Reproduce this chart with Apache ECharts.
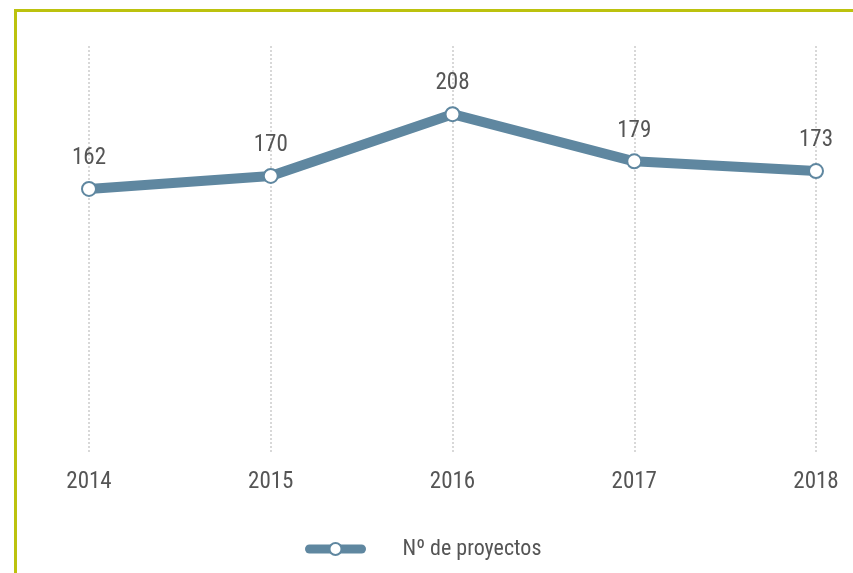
<!DOCTYPE html>
<html>
<head>
<meta charset="utf-8">
<script src="https://cdn.jsdelivr.net/npm/echarts@6/dist/echarts.min.js"></script>
<style>
  html, body { margin: 0; padding: 0; background: #fff; overflow: hidden; }
  #frame {
    position: absolute; left: 14px; top: 9px; width: 900px; height: 600px;
    border-top: 3px solid #bcc20e; border-left: 3px solid #bcc20e;
  }
  #chart { position: absolute; left: 0; top: 0; width: 853px; height: 573px; }
</style>
</head>
<body>
<div id="frame"></div>
<div id="chart"></div>
<script>
const years = ["2014", "2015", "2016", "2017", "2018"];
const proyectos = [162, 170, 208, 179, 173];
const seriesName = "Nº de proyectos";

const font = "'Roboto Condensed', 'Roboto', sans-serif";
const chart = echarts.init(document.getElementById("chart"));

chart.setOption({
    animation: false,
    grid: { left: 89, right: 37, top: 46, bottom: 121 },
    legend: {
        bottom: 8,
        left: 300,
        itemWidth: 52,
        itemHeight: 15,
        lineStyle: { width: 9, cap: "round" },
        textStyle: { fontFamily: font, fontSize: 22, color: "#555", padding: [0, 0, 0, 36] },
        data: [seriesName],
    },
    xAxis: {
        type: "category",
        boundaryGap: false,
        data: years,
        axisLine: { show: false },
        axisTick: { show: false },
        axisLabel: { fontFamily: font, fontSize: 23, color: "#555", margin: 19 },
        splitLine: {
            show: true,
            lineStyle: { color: "#ccc", width: 1.5, type: [2, 2] },
        },
    },
    yAxis: {
        type: "value",
        min: 0,
        max: 250,
        show: false,
        splitLine: { show: false },
    },
    series: [
        {
            name: seriesName,
            type: "line",
            data: proyectos,
            symbol: "circle",
            symbolSize: 14,
            lineStyle: { color: "#5f87a0", width: 10 },
            itemStyle: { color: "#fff", borderColor: "#5f87a0", borderWidth: 2 },
            label: {
                show: true,
                position: "top",
                distance: 11,
                fontFamily: font,
                fontSize: 23,
                color: "#555",
            },
        },
    ],
});
</script>
</body>
</html>
